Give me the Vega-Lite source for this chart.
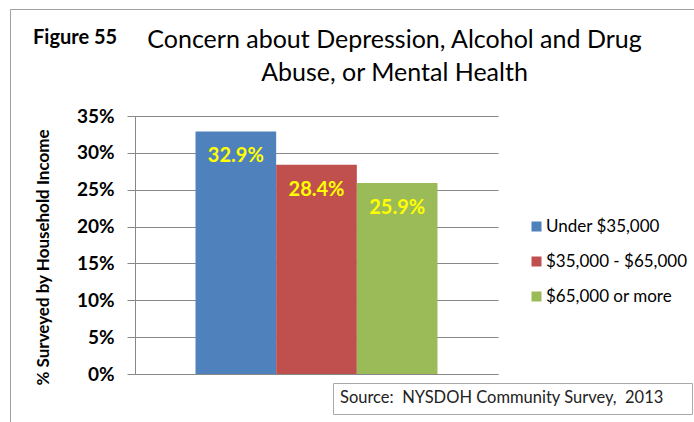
{
  "$schema": "https://vega.github.io/schema/vega-lite/v6.json",
  "width": 363,
  "height": 258,
  "autosize": {"type": "none"},
  "padding": {"left": 135, "top": 116, "right": 196, "bottom": 48},
  "background": "white",
  "title": {
    "text": ["Concern about Depression, Alcohol and Drug", "Abuse, or Mental Health"],
    "font": "Lato",
    "fontSize": 25,
    "fontWeight": "normal",
    "color": "black",
    "anchor": "middle",
    "frame": "group",
    "dx": 78,
    "lineHeight": 33,
    "offset": -77
  },
  "config": {"view": {"stroke": null}, "font": "Lato"},
  "resolve": {"scale": {"shape": "independent"}, "legend": {"shape": "independent"}},
  "layer": [
    {
      "data": {"values": [
        {"group": "Under $35,000", "value": 0.329},
        {"group": "$35,000 - $65,000", "value": 0.284},
        {"group": "$65,000 or more", "value": 0.259}
      ]},
      "encoding": {
        "x": {"field": "group", "type": "nominal", "sort": null,
          "scale": {"paddingInner": 0, "paddingOuter": 0.75},
          "axis": {"title": null, "labels": false, "ticks": false, "domainColor": "#888"}},
        "y": {"field": "value", "type": "quantitative",
          "scale": {"domain": [0, 0.35]},
          "axis": {"title": "% Surveyed by Household Income", "titleFont": "Lato", "titleFontSize": 17,
            "titleFontWeight": "bold", "titleColor": "black", "titlePadding": 24, "titleY": 141,
            "format": ".0%", "values": [0, 0.05, 0.1, 0.15, 0.2, 0.25, 0.3, 0.35],
            "labelOverlap": false,
            "labelFont": "Lato", "labelFontSize": 19, "labelFontWeight": "bold", "labelColor": "black",
            "labelPadding": 13, "tickSize": 8, "tickColor": "#888", "gridColor": "#888",
            "domainColor": "#888"}}
      },
      "layer": [
        {
          "mark": {"type": "bar"},
          "encoding": {
            "color": {"field": "group", "type": "nominal", "sort": null,
              "scale": {"range": ["#4f81bd", "#c0504d", "#9bbb59"]},
              "legend": {"title": null, "orient": "none", "legendX": 393, "legendY": 102,
                "symbolType": "square", "symbolSize": 100, "symbolStrokeWidth": 0,
                "labelFont": "Lato", "labelFontSize": 17, "labelColor": "black",
                "rowPadding": 17, "labelOffset": 1}}
          }
        },
        {
          "mark": {"type": "text", "baseline": "top", "dy": 15, "font": "Lato", "fontSize": 20,
            "fontWeight": "bold", "color": "#ffff00"},
          "encoding": {
            "text": {"field": "value", "type": "quantitative", "format": ".1%"}
          }
        }
      ]
    },
    {
      "data": {"values": [{"fig": "Figure 55"}]},
      "mark": {"type": "point", "opacity": 0},
      "encoding": {
        "shape": {"field": "fig", "type": "nominal",
          "legend": {"title": "Figure 55", "values": [], "orient": "none", "legendX": -102, "legendY": -88,
            "titleFont": "Lato", "titleFontSize": 20, "titleFontWeight": "bold", "titleColor": "black"}}
      }
    },
    {
      "data": {"values": [{"src": "Source"}]},
      "mark": {"type": "point", "opacity": 0},
      "encoding": {
        "shape": {"field": "src", "type": "nominal",
          "legend": {"title": "Source:\u00a0 NYSDOH Community Survey,\u00a0 2013\u00a0\u00a0\u2800", "values": [], "orient": "none",
            "legendX": 198, "legendY": 267, "padding": 7, "strokeColor": "#aaa", "fillColor": "white",
            "titleLimit": 500,
            "titleFont": "Lato", "titleFontSize": 16.5, "titleFontWeight": "normal", "titleColor": "#222"}}
      }
    },
    {
      "data": {"values": [{"frame": "frame"}]},
      "mark": {"type": "point", "opacity": 0},
      "encoding": {
        "shape": {"field": "frame", "type": "nominal",
          "legend": {"title": "\u2003", "values": [], "orient": "none",
            "legendX": -125, "legendY": -107, "padding": 420, "strokeColor": "#a0a0a0",
            "titleFontSize": 10}}
      }
    }
  ]
}
